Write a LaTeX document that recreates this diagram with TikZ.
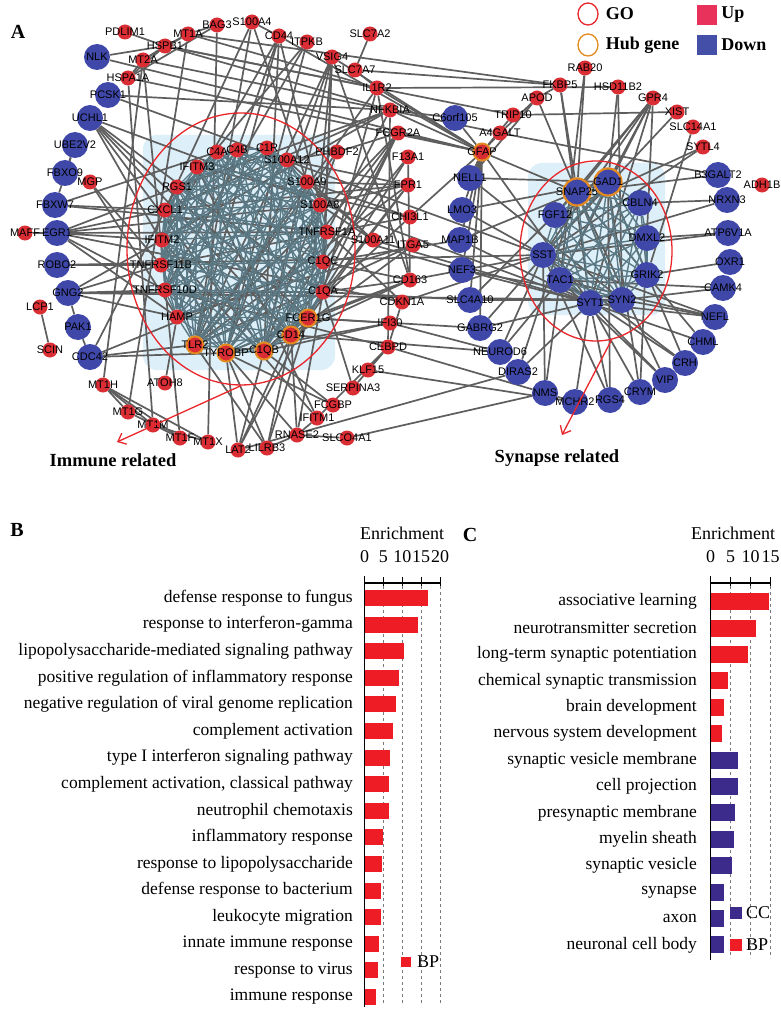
\documentclass[tikz,border=0pt]{standalone}
\usepackage{fontspec}
\setmainfont{Liberation Serif}
\setsansfont{Liberation Sans}
\usepackage{xcolor}
\usepackage{tikz}
\usetikzlibrary{positioning, arrows.meta, shapes.geometric}
\definecolor{gUp}{HTML}{DA2D34}
\definecolor{gDown}{HTML}{3F48A9}
\definecolor{kUp}{HTML}{E8325C}
\definecolor{kDown}{HTML}{4450A8}
\definecolor{hubRing}{HTML}{E3891F}
\definecolor{goRed}{HTML}{E8262B}
\definecolor{eGray}{HTML}{5E5E5E}
\definecolor{eSlate}{HTML}{5A7985}
\definecolor{clBg}{HTML}{DDEFF8}
\definecolor{barRed}{HTML}{EE1D25}
\definecolor{barBlue}{HTML}{3D2B8C}
\definecolor{gridGray}{HTML}{7A7A7A}
\pgfdeclarelayer{bg}
\pgfdeclarelayer{edges}
\pgfsetlayers{bg,edges,main}
\newcommand{\immuneset}{C4A,C4B,C1R,S100A12,S100A9,S100A8,TNFRSF1A,C1QC,C1QA,FCER1G,CD14,C1QB,TYROBP,TLR2,HAMP,TNFRSF10D,TNFRSF11B,IFITM2,CXCL1,RGS1,IFITM3}
\newcommand{\synapseset}{SNAP25,GAD1,CBLN4,DMXL2,GRIK2,SYN2,SYT1,TAC1,SST,FGF12}

\begin{document}
\begin{tikzpicture}[x=1pt, y=-1pt, >=Stealth,
  upgene/.style={circle, fill=gUp, minimum size=15, inner sep=0pt},
  downgene/.style={circle, fill=gDown, minimum size=26, inner sep=0pt},
  hubup/.style={upgene, draw=hubRing, line width=2pt, minimum size=17},
  hubdown/.style={downgene, draw=hubRing, line width=2.2pt, minimum size=27},
  every label/.style={font=\sffamily\fontsize{11}{12}\selectfont, inner sep=0pt},
  link/.style={eGray, line width=1.7pt},
  inlink/.style={eSlate, line width=1.4pt},
  goring/.style={ellipse, draw=goRed, line width=1.3pt, inner sep=0pt},
  goarrow/.style={-{Straight Barb[length=7pt, width=12pt]}, goRed, line width=1.3pt},
  panel/.style={font=\bfseries\fontsize{20}{24}\selectfont},
  keytext/.style={font=\bfseries\fontsize{18}{21}\selectfont, inner sep=0pt, anchor=west},
  tag/.style={font=\bfseries\fontsize{18.5}{22}\selectfont},
  enrich/.style={font=\fontsize{18}{22}\selectfont, inner sep=0pt},
  term/.style={font=\fontsize{17.5}{20}\selectfont, anchor=east, inner sep=0pt},
  ticklab/.style={font=\fontsize{18}{21}\selectfont, inner sep=0pt},
  axisline/.style={black, line width=1.2pt},
  gridline/.style={gridGray, dashed, line width=0.9pt}]

\useasboundingbox (0,0) rectangle (780,1011);
\begin{pgfonlayer}{bg}
  \fill[white] (0,0) rectangle (780,1011);
  \fill[clBg, rounded corners=14pt] (143,135) rectangle (335,370);
  \fill[clBg, rounded corners=14pt] (528,163) rectangle (665,315);
\end{pgfonlayer}

\node[panel] (A) at (18,32) {A};

\node[goring, minimum width=228, minimum height=272] (imGO) at (241,249) {};
\node[goring, minimum width=152, minimum height=180] (syGO) at (596,251) {};

\foreach \g/\x/\y in {PDLIM1/125/32, MT1A/188/34, BAG3/217/25, S100A4/252/22, HSPB1/165/46, MT2A/143/60,
    HSPA1A/128/78, CD44/279/36, ITPKB/307/42, VSIG4/332/57, SLC7A2/370/34, SLC7A7/355/70, IL1R2/377/88,
    NFKBIA/390/110, FCGR2A/398/133, F13A1/408/157, FPR1/408/185, CHI3L1/410/217, ITGA5/413/245,
    S100A11/373/240, CD163/410/280, CDKN1A/402/302, IFI30/390/323, CEBPD/388/347, KLF15/368/370,
    SERPINA3/353/388, FCGBP/333/405, IFITM1/317/418, RNASE2/297/435, SLCO4A1/347/438, LILRB3/267/448,
    LAT2/238/450, MT1X/208/442, MT1F/180/438, MT1M/153/425, MT1G/128/412, MT1H/103/385, ATOH8/165/383,
    SCIN/50/350, LCP1/40/307, MAFF/25/233, MGP/90/182, A4GALT/500/133, TRIP10/513/115, APOD/537/98,
    FKBP5/560/85, RAB20/585/68, HSD11B2/618/87, GPR4/653/98, XIST/677/112, SLC14A1/693/127,
    SYTL4/703/147, ADH1B/762/185, C4A/217/152, C4B/237/150, C1R/267/148, S100A12/287/160,
    PHBDF2/337/152, IFITM3/197/167, RGS1/177/187, S100A9/307/182, CXCL1/165/210, S100A8/320/205,
    IFITM2/162/240, TNFRSF1A/327/232, TNFRSF11B/161/265, C1QC/323/262, TNFRSF10D/165/290,
    C1QA/323/292, HAMP/177/317}
  \node[upgene, label={center:\g}] (\g) at (\x,\y) {};
\foreach \g/\x/\y in {FCER1G/308/318, TLR2/195/345, TYROBP/226/353, C1QB/264/351, CD14/291/335, GFAP/482/152}
  \node[hubup, label={center:\g}] (\g) at (\x,\y) {};
\foreach \g/\x/\y in {NLK/97/57, PCSK1/108/95, UCHL1/90/118, UBE2V2/75/145, FBXO9/65/173, FBXW7/55/205,
    EGR1/57/233, ROBO2/57/265, GNG2/68/293, PAK1/78/327, CDC42/90/357, C6orf105/455/118, NELL1/470/178,
    LMO3/462/210, MAP1B/460/240, NEF3/462/270, SLC4A10/470/300, GABRG2/480/328, NEUROD6/500/352,
    DIRAS2/518/372, NMS/545/393, MCHR2/575/402, RGS4/610/400, CRYM/640/392, VIP/665/380, CRH/685/363,
    CHML/703/342, NEFL/715/317, CAMK4/723/288, OXR1/730/262, ATP6V1A/728/233, NRXN3/727/200,
    B3GALT2/718/175, CBLN4/640/203, FGF12/555/215, DMXL2/647/238, SST/543/255, GRIK2/647/275,
    TAC1/560/280, SYT1/590/303, SYN2/622/300}
  \node[downgene, label={center:\g}] (\g) at (\x,\y) {};
\foreach \g/\x/\y in {SNAP25/577/192, GAD1/608/182}
  \node[hubdown, label={center:\g}] (\g) at (\x,\y) {};

\begin{pgfonlayer}{edges}
  \foreach \a/\b in {PDLIM1/HSPB1, NLK/HSPB1, MT1A/HSPB1, MT2A/HSPB1, HSPA1A/HSPB1, MT1A/MT2A, BAG3/MT1A,
      BAG3/HSPA1A, MT2A/HSPA1A, S100A4/CD44, HSPB1/NFKBIA, HSPB1/TRIP10, MT1A/FKBP5, HSPA1A/GFAP,
      MT2A/A4GALT, NLK/GFAP, HSPB1/IL1R2, MT1A/IL1R2, PCSK1/SST, PCSK1/NFKBIA, UCHL1/C1QB, UCHL1/TYROBP,
      UCHL1/CD14, UCHL1/FCER1G, UCHL1/SYT1, UCHL1/C1QA, CD44/TLR2, CD44/HAMP, CD44/C1QB, CD44/S100A8,
      CD44/IFITM2, ITPKB/TYROBP, ITPKB/CXCL1, ITPKB/TNFRSF10D, VSIG4/C1QA, VSIG4/C1QB, VSIG4/TYROBP,
      VSIG4/FCER1G, VSIG4/CD163, VSIG4/TLR2, VSIG4/C1QC, S100A4/CXCL1, S100A4/TLR2, S100A4/S100A9,
      BAG3/MT1X, MT1A/MT1G, MT2A/MT1F, HSPA1A/MT1M, MT2A/MT1H, SLC7A2/SLC7A7, SLC7A7/IL1R2, SLC7A7/FKBP5,
      IL1R2/HSD11B2, IL1R2/CD163, IL1R2/C1QA, IL1R2/TLR2, NFKBIA/CXCL1, NFKBIA/TNFRSF1A, NFKBIA/IFITM2,
      NFKBIA/CEBPD, NFKBIA/C6orf105, NFKBIA/GFAP, NFKBIA/RGS1, TRIP10/XIST, FCGR2A/C1QB, FCGR2A/TYROBP,
      FCGR2A/FCER1G, FCGR2A/CD14, FCGR2A/TLR2, FCGR2A/GFAP, F13A1/CD163, F13A1/C1QA, F13A1/C1QC,
      FPR1/S100A8, FPR1/S100A9, FPR1/S100A12, FPR1/TLR2, FPR1/CD14, FPR1/FCER1G, FPR1/CXCL1, CHI3L1/GFAP,
      CHI3L1/S100A9, CHI3L1/C1QB, CHI3L1/TNFRSF11B, CHI3L1/IFITM3, ITGA5/CD14, ITGA5/HAMP, ITGA5/TLR2,
      S100A11/S100A8, S100A11/S100A9, S100A11/S100A12, S100A11/SYT1, CD163/C1QA, CD163/FCER1G,
      CD163/CD14, CD163/TYROBP, CD163/SST, CD163/C1QC, CDKN1A/CEBPD, CDKN1A/TNFRSF1A, CDKN1A/SST,
      CDKN1A/EGR1, IFI30/TYROBP, IFI30/FCER1G, IFI30/C1QB, IFI30/NEUROD6, CEBPD/KLF15, CEBPD/IFITM1,
      CEBPD/NMS, CEBPD/TNFRSF10D, SERPINA3/CEBPD, SERPINA3/C1QA, KLF15/MCHR2, FCGBP/C1QB, FCGBP/TYROBP,
      IFITM1/IFITM2, IFITM1/IFITM3, IFITM1/RNASE2, RNASE2/SLCO4A1, RNASE2/LILRB3, RNASE2/CD14,
      RNASE2/C1QA, RNASE2/TYROBP, LILRB3/TYROBP, LILRB3/FCER1G, LILRB3/CD14, LILRB3/TLR2, LAT2/FCER1G,
      LAT2/TYROBP, LAT2/CD14, LAT2/C1QB, MT1X/MT1H, MT1F/MT1H, MT1M/MT1H, MT1G/MT1H, MT1X/MT1M,
      MT1F/MT1G, ATOH8/HAMP, UBE2V2/FBXW7, UBE2V2/FBXO9, MGP/HAMP, MGP/TNFRSF11B, FBXW7/CXCL1, FBXW7/C4A,
      FBXW7/TNFRSF1A, MAFF/EGR1, EGR1/IFITM2, EGR1/CXCL1, EGR1/TNFRSF10D, EGR1/HAMP, EGR1/TNFRSF1A,
      EGR1/RGS1, EGR1/S100A8, ROBO2/SST, ROBO2/TNFRSF11B, GNG2/TNFRSF11B, GNG2/TNFRSF10D, GNG2/HAMP,
      GNG2/C1QA, GNG2/PAK1, GNG2/SYN2, GNG2/IFITM2, PAK1/CDC42, CDC42/TLR2, CDC42/TYROBP, CDC42/RGS1,
      CDC42/C1QC, LCP1/SCIN, GFAP/C6orf105, GFAP/A4GALT, GFAP/TRIP10, GFAP/NELL1, GFAP/LMO3, GFAP/MAP1B,
      GFAP/NEF3, GFAP/SNAP25, GFAP/SYT1, GFAP/SLC4A10, GFAP/GABRG2, GFAP/IL1R2, GFAP/VSIG4, GFAP/CD44,
      A4GALT/B3GALT2, A4GALT/APOD, APOD/FKBP5, APOD/NELL1, APOD/SYN2, FKBP5/SYT1, FKBP5/SNAP25,
      RAB20/SNAP25, RAB20/TAC1, HSD11B2/GAD1, HSD11B2/SYN2, GPR4/SST, GPR4/SNAP25, GPR4/GAD1, GPR4/SYT1,
      GPR4/TAC1, GPR4/FGF12, SLC14A1/GRIK2, SYTL4/FGF12, SYTL4/SST, B3GALT2/SNAP25, NRXN3/CBLN4,
      NRXN3/SST, ATP6V1A/DMXL2, ATP6V1A/SST, OXR1/GRIK2, CAMK4/SYN2, CAMK4/TAC1, NEFL/SYT1, NEFL/TAC1,
      NEFL/SST, CHML/SYT1, CHML/SNAP25, CRH/SST, CRH/TAC1, CRH/GAD1, VIP/SST, VIP/TAC1, VIP/SNAP25,
      CRYM/SYT1, CRYM/GAD1, RGS4/SYT1, RGS4/SST, RGS4/GAD1, MCHR2/SYT1, MCHR2/NMS, NMS/SST, NMS/TAC1,
      DIRAS2/SYT1, DIRAS2/SNAP25, NEUROD6/SST, NEUROD6/TAC1, GABRG2/SYT1, GABRG2/GAD1, SLC4A10/SNAP25,
      SLC4A10/SYN2, NEF3/NEFL, NEF3/SYT1, MAP1B/SNAP25, MAP1B/SYT1, LMO3/SST, LMO3/GAD1, NELL1/GAD1,
      NELL1/SYN2, C1QA/SLC4A10, C1QC/MAP1B, TNFRSF1A/NEF3, FCER1G/GABRG2, CD14/NEUROD6, LAT2/DIRAS2,
      SLCO4A1/NMS, PHBDF2/S100A12, PHBDF2/TLR2, PHBDF2/C1QB, PHBDF2/FCGR2A, XIST/SST, GPR4/CRYM}
    \draw[link] (\a) -- (\b);
  \foreach \a [count=\i] in \immuneset
    \foreach \b [count=\j] in \immuneset
      {\pgfmathtruncatemacro\k{mod(\i+\j,3)}
       \ifnum\j>\i \ifnum\k>0 \draw[inlink] (\a) -- (\b); \fi\fi}
  \foreach \a [count=\i] in \synapseset
    \foreach \b [count=\j] in \synapseset
      {\ifnum\j>\i \draw[inlink] (\a) -- (\b); \fi}
\end{pgfonlayer}

\coordinate (imTip) at (117,442);
\coordinate (syTip) at (562,435);
\draw[goarrow] (imGO.south) -- (imTip);
\draw[goarrow] (syGO.-80) -- (syTip);
\node[tag] (imTag) at (113,460) {Immune related};
\node[tag] (syTag) at (557,458) {Synapse related};

\node[goring, draw=goRed, minimum width=20, minimum height=22] (goKey) at (588,14) {};
\node[keytext, right=7pt of goKey] (goTxt) {GO};
\node[goring, draw=hubRing, minimum width=20, minimum height=22] (hubKey) at (588,45) {};
\node[keytext, right=7pt of hubKey] (hubTxt) {Hub gene};
\node[fill=kUp, minimum size=20, inner sep=0pt] (upKey) at (707,15) {};
\node[keytext, right=4pt of upKey] (upTxt) {Up};
\node[fill=kDown, minimum size=20, inner sep=0pt] (downKey) at (707,45) {};
\node[keytext, right=4pt of downKey] (downTxt) {Down};

\node[panel] (B) at (17,530) {B};
\node[enrich] (bEnr) at (402,533) {Enrichment};
\foreach \v in {0,5,10,15,20}
  \node[ticklab] at ({364.5+3.78*\v},557) {\v};
\foreach \v in {5,10,15,20}
  \draw[gridline] ({364.5+3.78*\v},586) -- ({364.5+3.78*\v},1005);
\foreach \t/\v [count=\i] in {defense response to fungus/16.9, response to interferon-gamma/14.2,
    lipopolysaccharide-mediated signaling pathway/10.4, positive regulation of inflammatory response/9.1,
    negative regulation of viral genome replication/8.3, complement activation/7.6,
    type I interferon signaling pathway/6.8, {complement activation, classical pathway}/6.6,
    neutrophil chemotaxis/6.6, inflammatory response/4.8, response to lipopolysaccharide/4.5,
    defense response to bacterium/4.3, leukocyte migration/4.3, innate immune response/3.8,
    response to virus/3.7, immune response/3.0} {
  \node[term] (bt\i) at (353,{598+26.6*(\i-1)}) {\t};
  \fill[barRed] (364.5,{590+26.6*(\i-1)}) rectangle ++({3.78*\v},16);
}
\draw[axisline] (364.5,576) -- (364.5,1007);
\draw[axisline] (364.5,583) -- (440,583);
\foreach \v in {5,10,15,20}
  \draw[axisline] ({364.5+3.78*\v},577) -- ++(0,9);
\fill[barRed] (400.7,957) rectangle ++(10,10);
\node[ticklab, anchor=west] (bpB) at (417,962) {BP};

\node[panel] (C) at (470,535) {C};
\node[enrich] (cEnr) at (733,533) {Enrichment};
\foreach \v in {0,5,10,15}
  \node[ticklab] at ({710.7+4*\v},557) {\v};
\foreach \v in {5,10,15}
  \draw[gridline] ({710.7+4*\v},586) -- ({710.7+4*\v},958);
\foreach \t/\v/\c [count=\i] in {associative learning/14.6/barRed, neurotransmitter secretion/11.3/barRed,
    long-term synaptic potentiation/9.2/barRed, chemical synaptic transmission/4.4/barRed,
    brain development/3.2/barRed, nervous system development/2.9/barRed,
    synaptic vesicle membrane/6.7/barBlue, cell projection/6.7/barBlue, presynaptic membrane/6.0/barBlue,
    myelin sheath/5.75/barBlue, synaptic vesicle/5.4/barBlue, synapse/3.4/barBlue, axon/3.4/barBlue,
    neuronal cell body/3.2/barBlue} {
  \node[term] (ct\i) at (697,{601.7+26.4*(\i-1)}) {\t};
  \fill[\c] (710.7,{593.2+26.4*(\i-1)}) rectangle ++({4*\v},17);
}
\draw[axisline] (710.7,576) -- (710.7,960);
\draw[axisline] (710.7,583) -- (771,583);
\foreach \v in {5,10,15}
  \draw[axisline] ({710.7+4*\v},577) -- ++(0,9);
\fill[barBlue] (729.5,906.5) rectangle ++(12,12);
\node[ticklab, anchor=west] (ccC) at (746,912.7) {CC};
\fill[barRed] (729.5,939) rectangle ++(12,12);
\node[ticklab, anchor=west] (bpC) at (746,945) {BP};
\end{tikzpicture}
\end{document}
